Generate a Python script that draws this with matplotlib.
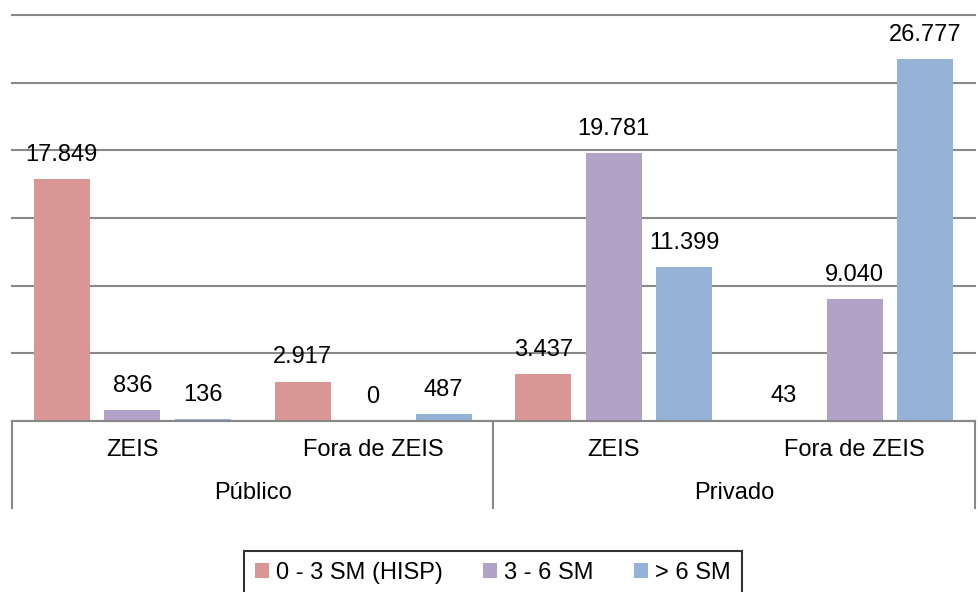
import matplotlib.pyplot as plt
from matplotlib.patches import Patch
import numpy as np

plt.rcParams['font.family'] = ['Liberation Sans', 'DejaVu Sans']

# data
sub_labels = ['ZEIS', 'Fora de ZEIS', 'ZEIS', 'Fora de ZEIS']
group_labels = ['Público', 'Privado']
series_names = ['0 - 3 SM (HISP)', '3 - 6 SM', '> 6 SM']
hisp = [17849, 2917, 3437, 43]
sm36 = [836, 0, 19781, 9040]
sm6 = [136, 487, 11399, 26777]
colors = ['#D99694', '#B3A2C7', '#95B3D7']

def fmt(v):
    return '{:,}'.format(v).replace(',', '.')

fig = plt.figure(figsize=(9.79, 5.92), dpi=100)
ax = fig.add_axes([12/979, 171/592, 963/979, 406/592])

x = np.arange(len(sub_labels))
step = 0.293
width = 0.233
for i, vals in enumerate([hisp, sm36, sm6]):
    pos = x + (i - 1) * step
    ax.bar(pos, vals, width, color=colors[i], zorder=2)
    for p, v in zip(pos, vals):
        ax.annotate(fmt(v), (p, v), xytext=(0, 13), textcoords='offset points',
                    ha='center', va='baseline', fontsize=17, zorder=3)

ax.set_xlim(-0.5, 3.5)
ax.set_ylim(0, 30000)
ax.set_yticks(np.arange(0, 30001, 5000))
ax.yaxis.grid(True, color='#888888', linewidth=1.5, zorder=0)
for gl in ax.get_ygridlines():
    gl.set_clip_on(False)
ax.tick_params(left=False, labelleft=False, bottom=False, labelbottom=False)
for s in ['left', 'right', 'top']:
    ax.spines[s].set_visible(False)
ax.spines['bottom'].set_color('#888888')
ax.spines['bottom'].set_linewidth(1.5)

# two-level category axis
tr = ax.get_xaxis_transform()
for xv in [-0.5, 1.5, 3.5]:
    ax.plot([xv, xv], [0, -0.214], transform=tr, color='#888888',
            linewidth=1.5, clip_on=False)
for xi, lab in zip(x, sub_labels):
    ax.text(xi, -0.072, lab, transform=tr, ha='center', va='center', fontsize=17)
for gi, lab in zip([0.5, 2.5], group_labels):
    ax.text(gi, -0.178, lab, transform=tr, ha='center', va='center', fontsize=17)

handles = [Patch(facecolor=c, edgecolor='none') for c in colors]
leg = fig.legend(handles, series_names, loc='upper center', ncol=3,
                 bbox_to_anchor=(493/979, 1 - 551/592), fontsize=17,
                 frameon=True, fancybox=False, edgecolor='black',
                 handlelength=0.6, handleheight=0.6, handletextpad=0.3,
                 columnspacing=1.7, borderpad=0.45, borderaxespad=0)
leg.get_frame().set_linewidth(1.5)

fig.savefig('out.png', dpi=100)
